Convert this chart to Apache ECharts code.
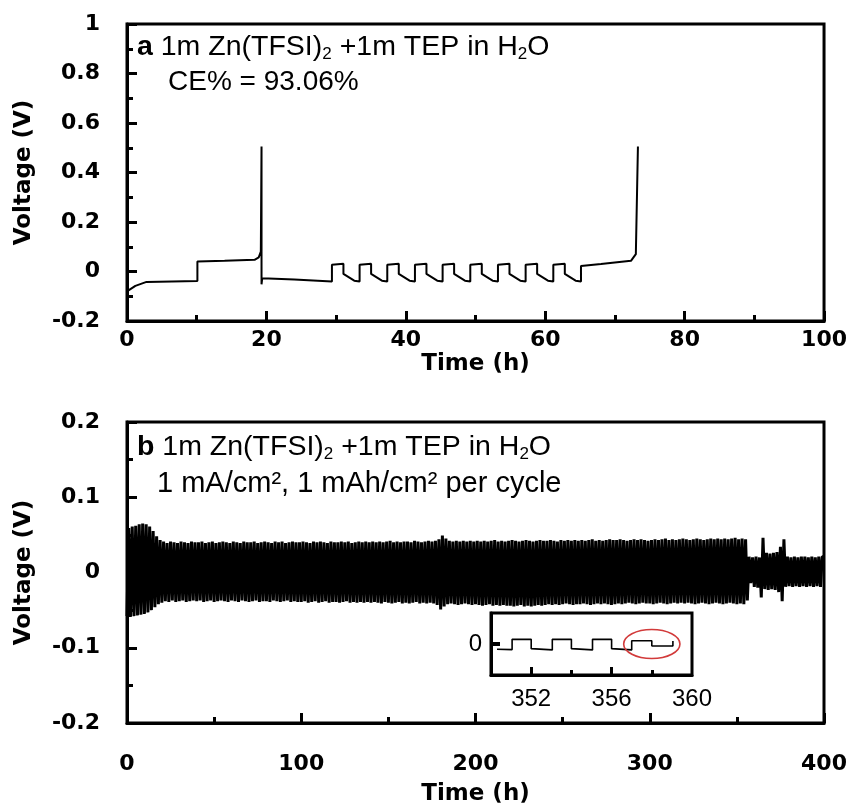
<!DOCTYPE html>
<html><head><meta charset="utf-8">
<script src="https://cdn.jsdelivr.net/npm/echarts@6/dist/echarts.min.js"></script>
<style>html,body{margin:0;padding:0;background:#fff}#c{width:850px;height:810px}</style>
</head><body><div id="c"></div>
<script>
// ---- Panel a: CE test (time in h, voltage in V) ----
const topTime = [0, 1.2, 2.8, 10.1, 10.1, 14.0, 18.3, 18.9, 19.2, 19.3, 19.3, 19.4, 24.0, 29.4,
  29.4, 31.05, 31.05, 32.6, 33.37,
  33.37, 35.02, 35.02, 36.57, 37.34,
  37.34, 38.99, 38.99, 40.54, 41.31,
  41.31, 42.96, 42.96, 44.51, 45.28,
  45.28, 46.93, 46.93, 48.48, 49.25,
  49.25, 50.90, 50.90, 52.45, 53.22,
  53.22, 54.87, 54.87, 56.42, 57.19,
  57.19, 58.84, 58.84, 60.39, 61.16,
  61.16, 62.81, 62.81, 64.36, 65.13,
  65.13, 68.0, 72.3, 73.0, 73.3];
const topVolt = [-0.080, -0.058, -0.042, -0.038, 0.040, 0.043, 0.047, 0.057, 0.080, 0.505, -0.052, -0.027, -0.032, -0.040,
  0.027, 0.031, -0.010, -0.037, -0.040,
  0.027, 0.031, -0.010, -0.037, -0.040,
  0.027, 0.031, -0.010, -0.037, -0.040,
  0.027, 0.031, -0.010, -0.037, -0.040,
  0.027, 0.031, -0.010, -0.037, -0.040,
  0.027, 0.031, -0.010, -0.037, -0.040,
  0.027, 0.031, -0.010, -0.037, -0.040,
  0.027, 0.031, -0.010, -0.037, -0.040,
  0.027, 0.031, -0.010, -0.037, -0.040,
  0.022, 0.030, 0.043, 0.070, 0.505];

// ---- Panel b: symmetric cycling, one value per 2 h cycle (1 h low half, 1 h high half) ----
const cycleHours = 2;
const cycleHigh = [
  0.059,0.061,0.062,0.064,0.065,0.064,0.061,0.055,0.048,0.043,
  0.041,0.039,0.041,0.040,0.039,0.041,0.040,0.039,0.041,0.040,
  0.040,0.041,0.039,0.040,0.041,0.039,0.040,0.041,0.040,0.039,
  0.041,0.040,0.039,0.041,0.040,0.040,0.041,0.039,0.040,0.041,
  0.040,0.039,0.041,0.040,0.041,0.039,0.040,0.041,0.040,0.040,
  0.041,0.040,0.039,0.041,0.040,0.041,0.040,0.039,0.041,0.040,
  0.040,0.041,0.040,0.041,0.039,0.040,0.041,0.040,0.041,0.040,
  0.041,0.040,0.041,0.040,0.041,0.042,0.040,0.041,0.040,0.041,
  0.041,0.040,0.042,0.041,0.040,0.041,0.042,0.041,0.042,0.044,
  0.049,0.045,0.042,0.041,0.042,0.041,0.042,0.041,0.042,0.041,
  0.042,0.041,0.042,0.041,0.042,0.043,0.041,0.042,0.041,0.042,
  0.043,0.042,0.041,0.042,0.043,0.042,0.041,0.042,0.043,0.042,
  0.042,0.043,0.042,0.041,0.043,0.042,0.043,0.042,0.043,0.042,
  0.043,0.042,0.043,0.044,0.042,0.043,0.042,0.043,0.044,0.043,
  0.043,0.044,0.043,0.042,0.043,0.044,0.043,0.044,0.043,0.042,
  0.043,0.044,0.043,0.044,0.045,0.043,0.044,0.043,0.044,0.045,
  0.044,0.043,0.044,0.045,0.044,0.043,0.044,0.045,0.044,0.045,
  0.044,0.045,0.044,0.045,0.046,0.044,0.045,0.044,0.021,0.020,
  0.021,0.020,0.046,0.026,0.025,0.026,0.027,0.034,0.044,0.021,
  0.020,0.021,0.020,0.021,0.021,0.020,0.021,0.020,0.021,0.021];
const cycleLow = [
  -0.058,-0.059,-0.058,-0.057,-0.056,-0.055,-0.053,-0.050,-0.046,-0.042,
  -0.040,-0.038,-0.039,-0.037,-0.039,-0.038,-0.037,-0.039,-0.038,-0.037,
  -0.038,-0.037,-0.039,-0.038,-0.037,-0.039,-0.038,-0.037,-0.038,-0.039,
  -0.037,-0.038,-0.039,-0.037,-0.038,-0.039,-0.038,-0.037,-0.039,-0.038,
  -0.038,-0.039,-0.037,-0.038,-0.039,-0.038,-0.037,-0.039,-0.038,-0.039,
  -0.039,-0.038,-0.040,-0.039,-0.038,-0.040,-0.039,-0.038,-0.040,-0.039,
  -0.039,-0.040,-0.039,-0.038,-0.040,-0.039,-0.040,-0.039,-0.040,-0.039,
  -0.040,-0.039,-0.040,-0.041,-0.039,-0.040,-0.041,-0.040,-0.039,-0.041,
  -0.040,-0.041,-0.040,-0.039,-0.041,-0.040,-0.041,-0.040,-0.041,-0.043,
  -0.049,-0.045,-0.042,-0.041,-0.042,-0.043,-0.042,-0.041,-0.042,-0.043,
  -0.042,-0.043,-0.044,-0.043,-0.042,-0.044,-0.043,-0.044,-0.043,-0.044,
  -0.044,-0.045,-0.044,-0.043,-0.045,-0.044,-0.045,-0.044,-0.043,-0.044,
  -0.043,-0.042,-0.043,-0.042,-0.043,-0.042,-0.041,-0.042,-0.043,-0.042,
  -0.042,-0.041,-0.042,-0.043,-0.042,-0.041,-0.042,-0.041,-0.042,-0.043,
  -0.042,-0.041,-0.042,-0.041,-0.040,-0.041,-0.042,-0.041,-0.040,-0.041,
  -0.041,-0.042,-0.041,-0.040,-0.041,-0.042,-0.041,-0.040,-0.041,-0.040,
  -0.041,-0.040,-0.041,-0.042,-0.041,-0.040,-0.041,-0.042,-0.041,-0.040,
  -0.041,-0.042,-0.041,-0.040,-0.041,-0.042,-0.041,-0.042,-0.037,-0.014,
  -0.019,-0.020,-0.033,-0.022,-0.023,-0.022,-0.023,-0.026,-0.038,-0.019,
  -0.018,-0.019,-0.018,-0.019,-0.018,-0.019,-0.018,-0.019,-0.018,-0.019];

// ---- Inset: 350-360 h detail ----
const insetTime = [350.3, 351.05, 351.05, 352.0, 352.0, 353.05, 353.05, 354.0, 354.0, 355.05, 355.05, 356.0, 356.0, 357.0, 357.0, 358.0, 358.0, 359.05, 359.05];
const insetVolt = [-0.034, -0.036, 0.030, 0.031, -0.030, -0.038, 0.030, 0.031, -0.030, -0.038, 0.030, 0.031, -0.030, -0.038, 0.021, 0.021, -0.012, -0.013, 0.020];
const insetLabelValues = [352, 356, 360];
const insetMajorTicks = [352, 356];
const insetMinorTicks = [354, 358];

const topData = topTime.map((t, i) => [t, topVolt[i]]);
const bottomData = [];
cycleLow.forEach((lo, i) => {
  bottomData.push([i * cycleHours, lo]);
  bottomData.push([i * cycleHours + 1, cycleHigh[i]]);
});
bottomData.push([cycleLow.length * cycleHours, cycleHigh[cycleHigh.length - 1]]);
const insetData = insetTime.map((t, i) => [t, insetVolt[i]]);

const BOLD = {color: '#000', fontFamily: 'DejaVu Sans', fontWeight: 'bold', fontSize: 22};
const NAME = {color: '#000', fontFamily: 'DejaVu Sans', fontWeight: 'bold', fontSize: 23};
const REG = {color: '#000', fontFamily: 'Liberation Sans', fontSize: 24};
const axLine = {show: true, onZero: false, lineStyle: {color: '#000', width: 3}};
const tick = {show: true, inside: true, length: 10, lineStyle: {color: '#000', width: 3}};
const minorTk = {show: true, inside: true, length: 6, lineStyle: {color: '#000', width: 3}};
const off = {show: false};

// helper: a tick-only axis on the same side giving the inward minor ticks
function minorAxis(grid, pos, min, max, interval) {
  return {gridIndex: grid, type: 'value', position: pos, min: min, max: max, interval: interval,
    axisLine: {show: false, onZero: false}, axisTick: minorTk, axisLabel: off, splitLine: off};
}

const chart = echarts.init(document.getElementById('c'), null, {renderer: 'canvas'});
const option = {
  animation: false,
  backgroundColor: '#fff',
  grid: [
    {left: 127, top: 24, width: 700, height: 297, show: true, borderColor: '#000', borderWidth: 3, containLabel: false},
    {left: 127, top: 422, width: 697, height: 301, show: true, borderColor: '#000', borderWidth: 3, containLabel: false},
    {left: 491, top: 613, width: 201, height: 62, show: true, borderColor: '#000', borderWidth: 3, backgroundColor: '#fff', containLabel: false}
  ],
  xAxis: [
    {gridIndex: 0, type: 'value', position: 'bottom', min: 0, max: 100, interval: 20, axisLine: axLine, axisTick: tick,
     splitLine: off, axisLabel: Object.assign({margin: 8}, BOLD),
     name: 'Time (h)', nameLocation: 'middle', nameGap: 32, nameTextStyle: NAME},
    {gridIndex: 1, type: 'value', position: 'bottom', min: 0, max: 400, interval: 100, axisLine: axLine, axisTick: tick,
     splitLine: off, axisLabel: Object.assign({margin: 30}, BOLD),
     name: 'Time (h)', nameLocation: 'middle', nameGap: 60, nameTextStyle: NAME},
    {gridIndex: 2, type: 'value', position: 'bottom', min: 350, max: 360, interval: 2, axisLine: axLine,
     axisTick: {show: true, inside: true, length: 8, customValues: insetMajorTicks, lineStyle: {color: '#000', width: 3}},
     splitLine: off,
     axisLabel: Object.assign({margin: 12, customValues: insetLabelValues,
       formatter: v => (insetLabelValues.indexOf(v) >= 0 ? String(v) : '')}, REG)},
    {gridIndex: 2, type: 'value', position: 'bottom', min: 350, max: 360, interval: 2, axisLine: {show: false, onZero: false},
     axisTick: {show: true, inside: true, length: 5, customValues: insetMinorTicks, lineStyle: {color: '#000', width: 3}},
     splitLine: off, axisLabel: off},
    minorAxis(0, 'bottom', 0, 100, 10),
    minorAxis(1, 'bottom', 0, 400, 50)
  ],
  yAxis: [
    {gridIndex: 0, type: 'value', position: 'left', min: -0.2, max: 1, interval: 0.2, axisLine: axLine, axisTick: tick,
     splitLine: off, axisLabel: Object.assign({margin: 27}, BOLD),
     name: 'Voltage (V)', nameLocation: 'middle', nameGap: 91, nameTextStyle: NAME},
    {gridIndex: 1, type: 'value', position: 'left', min: -0.2, max: 0.2, interval: 0.1, axisLine: axLine, axisTick: tick,
     splitLine: off, axisLabel: Object.assign({margin: 27}, BOLD),
     name: 'Voltage (V)', nameLocation: 'middle', nameGap: 91, nameTextStyle: NAME},
    {gridIndex: 2, type: 'value', position: 'left', min: -0.2, max: 0.2, interval: 0.2, axisLine: axLine,
     axisTick: {show: true, inside: true, length: 9, customValues: [0], lineStyle: {color: '#000', width: 4}},
     splitLine: off,
     axisLabel: Object.assign({margin: 9, customValues: [0], formatter: v => (v === 0 ? '0' : '')}, REG)},
    minorAxis(0, 'left', -0.2, 1, 0.1),
    minorAxis(1, 'left', -0.2, 0.2, 0.05)
  ],
  series: [
    {type: 'line', xAxisIndex: 0, yAxisIndex: 0, data: topData, showSymbol: false, symbol: 'none',
     lineStyle: {color: '#000', width: 2}, z: 3},
    {type: 'line', xAxisIndex: 1, yAxisIndex: 1, data: bottomData, step: 'end', showSymbol: false, symbol: 'none',
     lineStyle: {color: '#000', width: 3}, z: 3},
    {type: 'line', xAxisIndex: 2, yAxisIndex: 2, data: insetData, showSymbol: false, symbol: 'none',
     lineStyle: {color: '#000', width: 1.6}, z: 5}
  ],
  graphic: [
    {id: 'ta1', type: 'text', x: 137, y: 47, z: 50, style: {
      text: '{b|a} 1m Zn(TFSI){s|2} +1m TEP in H{s|2}O', fontFamily: 'Liberation Sans', fontSize: 28.5,
      lineHeight: 32, fill: '#000', verticalAlign: 'middle',
      rich: {b: {fontFamily: 'Liberation Sans', fontSize: 28.5, fontWeight: 'bold', lineHeight: 32, fill: '#000'},
             s: {fontFamily: 'Liberation Sans', fontSize: 17, lineHeight: 16, verticalAlign: 'bottom', fill: '#000'}}}},
    {id: 'ta2', type: 'text', x: 168, y: 82, z: 50, style: {
      text: 'CE% = 93.06%', fontFamily: 'Liberation Sans', fontSize: 28, fill: '#000', verticalAlign: 'middle'}},
    {id: 'tb1', type: 'text', x: 137, y: 447, z: 50, style: {
      text: '{b|b} 1m Zn(TFSI){s|2} +1m TEP in H{s|2}O', fontFamily: 'Liberation Sans', fontSize: 28.5,
      lineHeight: 32, fill: '#000', verticalAlign: 'middle',
      rich: {b: {fontFamily: 'Liberation Sans', fontSize: 28.5, fontWeight: 'bold', lineHeight: 32, fill: '#000'},
             s: {fontFamily: 'Liberation Sans', fontSize: 17, lineHeight: 16, verticalAlign: 'bottom', fill: '#000'}}}},
    {id: 'tb2', type: 'text', x: 157, y: 484, z: 50, style: {
      text: '1 mA/cm², 1 mAh/cm² per cycle', fontFamily: 'Liberation Sans', fontSize: 29, fill: '#000', verticalAlign: 'middle'}}
  ]
};
chart.setOption(option);

// red ring around the last two half-cycles of the inset, placed in inset data coordinates
const c0 = chart.convertToPixel({gridIndex: 2}, [358.0, 0]);
const c1 = chart.convertToPixel({gridIndex: 2}, [359.4, 0.094]);
chart.setOption({graphic: [{id: 'ring', type: 'ellipse', z: 60,
  shape: {cx: c0[0], cy: c0[1], rx: Math.abs(c1[0] - c0[0]), ry: Math.abs(c0[1] - c1[1])},
  style: {fill: 'none', stroke: '#d23a3a', lineWidth: 1.6}}]});
</script>
</body></html>
